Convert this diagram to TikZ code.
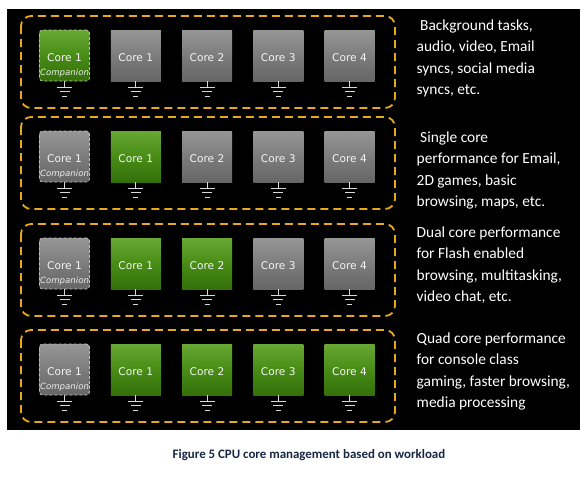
\documentclass[tikz,border=0pt]{standalone}
\usepackage{fontspec}
\setmainfont{Carlito}
\newfontfamily\corefont{DejaVu Sans}
\usetikzlibrary{positioning}
\definecolor{slotyellow}{RGB}{232,168,28}
\definecolor{captionblue}{RGB}{24,38,68}
\definecolor{idletop}{RGB}{150,150,150}
\definecolor{idlemid}{RGB}{124,124,124}
\definecolor{idlebot}{RGB}{102,102,102}
\definecolor{busytop}{RGB}{104,168,52}
\definecolor{busymid}{RGB}{72,140,22}
\definecolor{busybot}{RGB}{52,112,10}

\tikzset{
  slot/.style={draw=slotyellow,line width=1.8pt,dash pattern=on 8pt off 5pt,rounded corners=10pt},
  core/.style={minimum width=50pt,minimum height=51pt,inner sep=0pt,text height=11.5pt,text depth=0pt,
    text=white!96!black,font=\corefont\fontsize{10.6}{12}\selectfont},
  idle/.style={core,top color=idletop,bottom color=idlebot,middle color=idlemid},
  busy/.style={core,top color=busytop,bottom color=busybot,middle color=busymid},
  companion/.style={draw=white!75!black,dash pattern=on 3pt off 2pt,rounded corners=3pt,line width=0.8pt},
  gnd/.style={draw=white!85!black,line width=0.9pt},
  usage/.style={anchor=north west,inner sep=0pt,align=left,text=white,font=\fontsize{15.4}{21.5}\selectfont}
}

\begin{document}
\begin{tikzpicture}[x=1pt,y=-1pt]
\useasboundingbox (0,0) rectangle (586,480);
%black panel
\fill[black] (7,9) rectangle (580,430);
%one row per workload: top of slot, active cores
\foreach \r/\top/\n in {1/16/0,2/117/1,3/224/2,4/330/4}{
	\draw[slot] (21,\top) rectangle (395,\top+92);
	% companion core
	\ifnum\n=0 \def\corestyle{busy}\else\def\corestyle{idle}\fi
	\node[\corestyle,companion,
	  label={[anchor=base,yshift=6pt,inner sep=0pt,text=white!92!black,font=\corefont\itshape\fontsize{8.6}{9}\selectfont]south:Companion}]
	  (core\r-0) at (64.5,\top+39.5) {Core 1};
	% main cores
	\foreach \c in {1,...,4}{
		\ifnum\c>\n \def\corestyle{idle}\else\def\corestyle{busy}\fi
		\node[\corestyle] (core\r-\c) at (64.5+71.25*\c,\top+39.5) {Core \c};
	}
	% ground symbols
	\foreach \c in {0,...,4}{
		\draw[gnd] (core\r-\c.south) -- ++(0,6) coordinate (gnd\r-\c);
		\draw[gnd] (gnd\r-\c) ++(-7.5,0) -- ++(15,0)
		           (gnd\r-\c) ++(-5,4.5) -- ++(10,0)
		           (gnd\r-\c) ++(-2.5,9) -- ++(5,0);
	}
}
%workload texts
\node[usage] (task1) at (416.5,19.5) {\hspace*{3.5pt}Background tasks,\\audio, video, Email\\syncs, social media\\syncs, etc.};
\node[usage] (task2) at (416.5,131.5) {\hspace*{3.5pt}Single core\\performance for Email,\\2D games, basic\\browsing, maps, etc.};
\node[usage] (task3) at (416.5,226.5) {Dual core performance\\for Flash enabled\\browsing, multitasking,\\video chat, etc.};
\node[usage] (task4) at (416.5,332.5) {Quad core performance\\for console class\\gaming, faster browsing,\\media processing};
%caption
\node[text=captionblue,font=\bfseries\fontsize{12.9}{15}\selectfont] (caption) at (309,455)
  {Figure 5 CPU core management based on workload};
\end{tikzpicture}
\end{document}
